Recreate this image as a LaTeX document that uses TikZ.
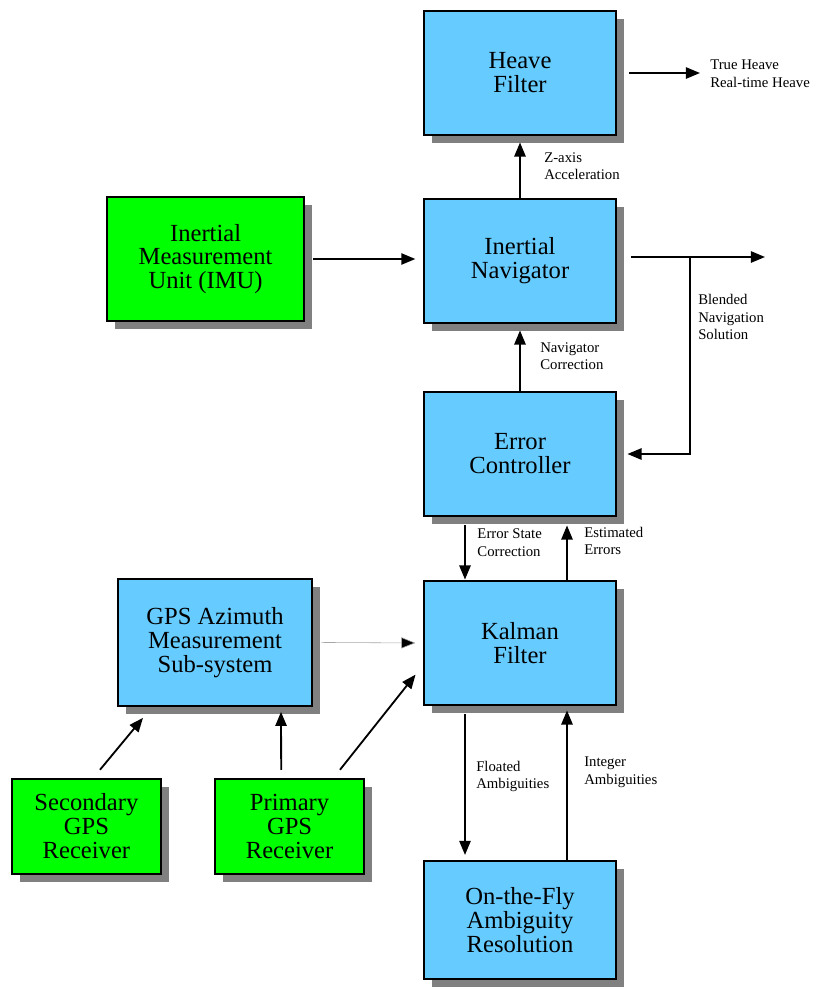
\documentclass[tikz,border=0pt]{standalone}
\usepackage{fontspec}
\setmainfont{Liberation Serif}
\usetikzlibrary{arrows.meta}
\usetikzlibrary{calc}
\usetikzlibrary{shadows}
\definecolor{boxblue}{RGB}{102,204,255}
\definecolor{boxgreen}{RGB}{0,255,0}
\definecolor{boxshadow}{RGB}{128,128,128}

\begin{document}
\begin{tikzpicture}[box/.style={draw,line width=1.5pt,align=center,inner sep=2pt,font=\fontsize{17.5}{17}\selectfont,drop shadow={shadow xshift=0.2cm,shadow yshift=-0.2cm,fill=boxshadow,opacity=1}},
  blue box/.style={box,fill=boxblue,minimum width=4.82cm,minimum height=3.12cm},
  green box/.style={box,fill=boxgreen,minimum width=3.72cm,minimum height=2.38cm},
  note/.style={anchor=north west,align=left,inner sep=0pt,font=\fontsize{10.5}{12.5}\selectfont},
  link/.style={line width=1.3pt,-{Triangle[length=10pt,width=8pt]}}]
  \useasboundingbox (0,0) rectangle (20.5,-24.725);
  \node[blue box] (heave) at (13.0,-1.825) {Heave\\Filter};
  \node[blue box] (nav) at (13.0,-6.525) {Inertial\\Navigator};
  \node[blue box] (err) at (13.0,-11.35) {Error\\Controller};
  \node[blue box] (kal) at (13.0,-16.075) {Kalman\\Filter};
  \node[blue box,minimum height=2.96cm] (otf) at (13.0,-23.0) {On-the-Fly\\Ambiguity\\Resolution};
  \node[box,fill=boxgreen,minimum width=4.92cm,minimum height=3.12cm] (imu) at (5.14,-6.475) {Inertial\\Measurement\\Unit (IMU)};
  \node[blue box,minimum width=4.87cm,minimum height=3.17cm] (gpsaz) at (5.375,-16.06) {GPS Azimuth\\Measurement\\Sub-system};
  \node[green box] (sec) at (2.16,-20.66) {Secondary\\GPS\\Receiver};
  \node[green box] (pri) at (7.24,-20.66) {Primary\\GPS\\Receiver};

  \coordinate (heaveout) at (17.5,-1.825);
  \coordinate (navout) at (19.125,-6.425);
  \coordinate (branch) at (17.25,-6.425);

  \draw[link,shorten <=0.3cm] (heave.east) -- (heaveout);
  \draw[link,shorten >=0.15cm] (nav.north) -- (heave.south);
  \draw[link,shorten <=0.2cm,shorten >=0.18cm] (imu.east) -- (imu.east -| nav.west);
  \draw[link,shorten <=0.35cm] (nav.east |- navout) -- (navout);
  \draw[link,shorten >=0.25cm] (branch) |- (err.east);
  \draw[link,shorten >=0.15cm] (err.north) -- (nav.south);
  \draw[link,shorten <=0.2cm] ([xshift=-1.375cm]err.south) -- ([xshift=-1.375cm]kal.north);
  \draw[link,shorten >=0.2cm] ([xshift=1.175cm]kal.north) -- ([xshift=1.175cm]err.south);
  \draw[line width=0.4pt,draw=gray!70,shorten <=0.2cm,shorten >=0.18cm,-{Triangle[length=10pt,width=8pt,fill=black]}] (gpsaz.east) -- (kal.west);
  \draw[link] ([xshift=0.34cm,yshift=0.2cm]sec.north) -- ([xshift=-1.8cm,yshift=-0.275cm]gpsaz.south);
  \draw[link] ([xshift=-0.21cm,yshift=0.2cm]pri.north) -- ([xshift=1.65cm,yshift=-0.125cm]gpsaz.south);
  \draw[link] ([xshift=1.26cm,yshift=0.2cm]pri.north) -- ([xshift=-0.175cm,yshift=-0.79cm]kal.west);
  \draw[link,shorten <=0.2cm,shorten >=0.12cm] ([xshift=-1.375cm]kal.south) -- ([xshift=-1.375cm]otf.north);
  \draw[link,shorten >=0.1cm] ([xshift=1.175cm]otf.north) -- ([xshift=1.175cm]kal.south);

  \node[note] (lheave) at (17.75,-1.5) {True Heave\\Real-time Heave};
  \node[note] (lzaxis) at (13.6,-3.8) {Z-axis\\Acceleration};
  \node[note] (lblend) at (17.45,-7.35) {Blended\\Navigation\\Solution};
  \node[note] (lnavcor) at (13.5,-8.55) {Navigator\\Correction};
  \node[note] (lerrcor) at (11.93,-13.22) {Error State\\Correction};
  \node[note] (lesterr) at (14.6,-13.17) {Estimated\\Errors};
  \node[note] (lfloat) at (11.9,-19.02) {Floated\\Ambiguities};
  \node[note] (linteg) at (14.6,-18.92) {Integer\\Ambiguities};

\end{tikzpicture}
\end{document}
